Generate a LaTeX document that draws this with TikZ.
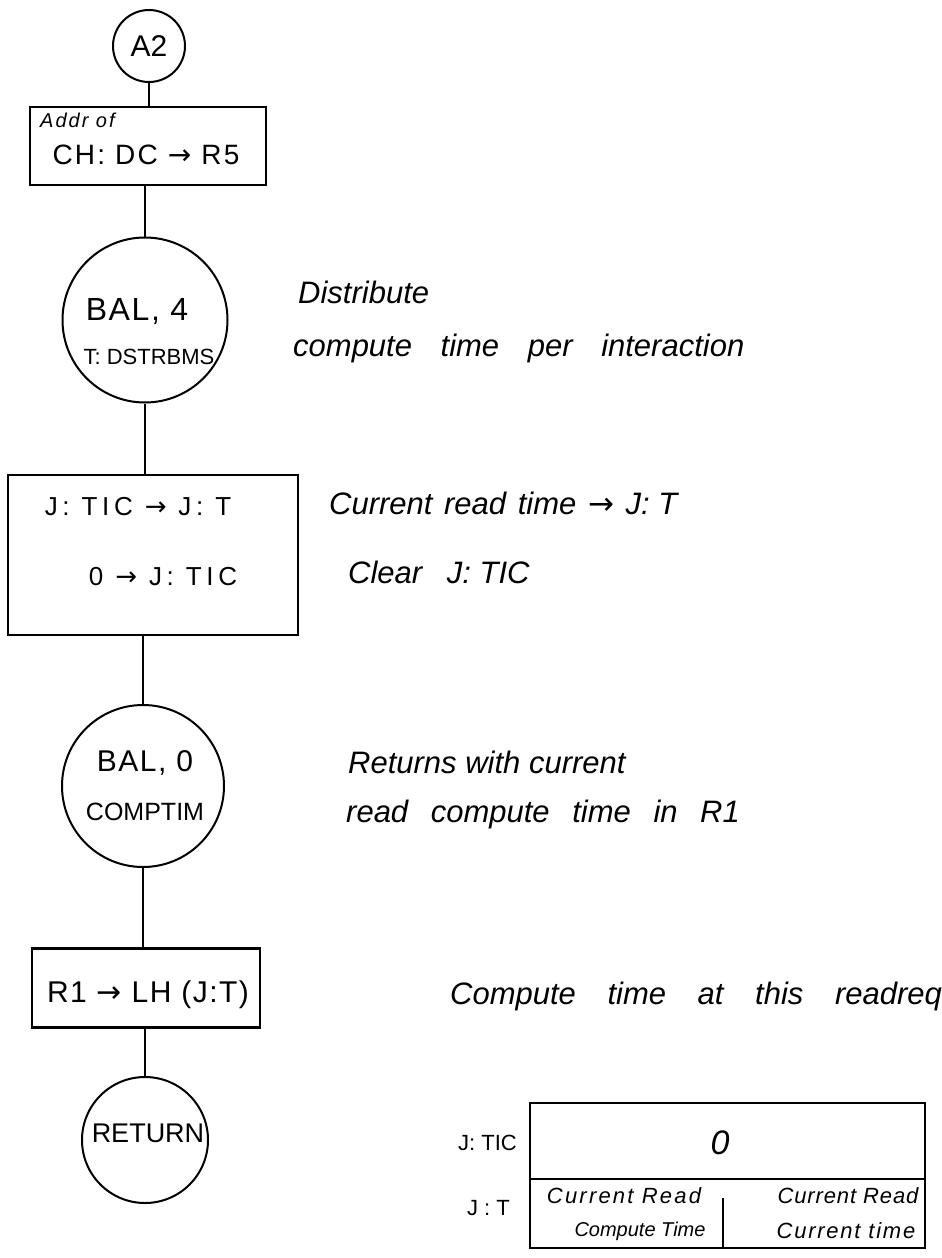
\documentclass[tikz,border=0pt]{standalone}
\usepackage{fontspec}
\setmainfont{Liberation Sans}
\newfontfamily\arrowfont{DejaVu Sans}
\newcommand\toarr{{\arrowfont →}}
\newcommand\fs[1]{\fontsize{#1}{#1}\selectfont}
\newcommand\ls[1]{\addfontfeatures{LetterSpace=#1}}
\newcommand\gp[1]{\hspace{#1pt}}
\begin{document}
\begin{tikzpicture}[x=1pt,y=-1pt,
  flow/.style={draw, line width=2.2pt, inner sep=0pt},
  circ/.style={draw, line width=2pt, inner sep=0pt, circle},
  boxr/.style={flow, rectangle},
  lbl/.style={inner sep=0pt, anchor=center},
  note/.style={inner sep=0pt, anchor=west, font=\fs{31}\itshape},
  cell/.style={inner sep=0pt, font=\fs{21}\itshape},
  conn/.style={line width=2pt}]
\useasboundingbox (0,0) rectangle (942,1258);

% flowchart nodes
\node[circ, minimum size=72pt] (a2) at (149,46) {};
\node[lbl, font=\fs{30}] (a2t) at (149,46) {A2};

\node[boxr, minimum width=236pt, minimum height=78pt] (box1) at (148,146) {};
\node[inner sep=0pt, anchor=west, font={\fs{20}\itshape\ls{10}}] (box1a) at (40,120) {Addr of};
\node[lbl, font={\fs{28}\ls{8}}] (box1b) at (146,155) {CH: DC \toarr\ R5};

\node[circ, minimum size=165pt] (bal4) at (145,320) {};
\node[lbl, font={\fs{32}\ls{5}}] (bal4a) at (137,312) {BAL, 4};
\node[lbl, font=\fs{22}] (bal4b) at (149,357) {T: DSTRBMS};

\node[boxr, minimum width=290pt, minimum height=160pt] (box2) at (153,555) {};
\node[lbl, font={\fs{26}\ls{18}}] (box2a) at (138,507) {J: TIC \toarr\ J: T};
\node[lbl, font={\fs{26}\ls{18}}] (box2b) at (163,577) {0 \toarr\ J: TIC};

\node[circ, minimum size=162pt] (bal0) at (143,786) {};
\node[lbl, font={\fs{30}\ls{5}}] (bal0a) at (145,763) {BAL, 0};
\node[lbl, font=\fs{25}] (bal0b) at (145,812) {COMPTIM};

\node[boxr, minimum width=228pt, minimum height=79pt] (box3) at (146,988) {};
\node[lbl, font={\fs{30}\ls{5}}] (box3a) at (148,995) {R1 \toarr\ LH (J:T)};

\node[circ, minimum size=126pt] (ret) at (145,1140) {};
\node[lbl, font=\fs{27}] (rett) at (148,1133) {RETURN};

% connectors
\draw[conn] (a2.south) -- (a2.south |- box1.north);
\draw[conn] (box1.south -| bal4.north) -- (bal4.north);
\draw[conn] (bal4.south) -- (bal4.south |- box2.north);
\draw[conn] (box2.south -| bal0.north) -- (bal0.north);
\draw[conn] (bal0.south) -- (bal0.south |- box3.north);
\draw[conn] (box3.south -| ret.north) -- (ret.north);

% annotations
\node[note] (n1) at (298,292) {Distribute};
\node[note] (n2) at (293,348) {compute\gp{20} time\gp{20} per\gp{20} interaction};
\node[note] (n3) at (329,503) {Current\gp{3} read\gp{3} time\gp{3} \toarr\gp{3} J: T};
\node[note] (n4) at (348,572) {Clear\gp{16} J: TIC};
\node[note] (n5) at (348,762) {Returns with current};
\node[note] (n6) at (346,814) {read\gp{14} compute\gp{14} time\gp{14} in\gp{14} R1};
\node[note] (n7) at (450,996) {Compute\gp{23} time\gp{23} at\gp{23} this\gp{23} readreq};

% table
\node[flow, minimum width=395pt, minimum height=76pt] (tic) at (727.5,1141) {};
\node[flow, minimum width=395pt, minimum height=69pt] (tt) at (727.5,1213.5) {};
\node[lbl, font=\fs{34}\itshape] (zero) at (720,1143) {0};
\coordinate (div) at (723,1198);
\draw[conn] (div) -- (div |- tt.south);
\node[cell, font={\fs{22}\itshape\ls{10}}] (c1) at (624,1196) {Current Read};
\node[cell, font=\fs{20}\itshape] (c2) at (640,1231) {Compute Time};
\node[cell, font={\fs{22}\itshape\ls{4}}] (c3) at (848,1196) {Current Read};
\node[cell, font={\fs{22}\itshape\ls{8}}] (c4) at (846,1231) {Current time};
\node[inner sep=0pt, anchor=east, font=\fs{22}] (l1) at (517,1143) {J: TIC};
\node[inner sep=0pt, anchor=east, font=\fs{22}] (l2) at (510,1208) {J : T};
\end{tikzpicture}
\end{document}
